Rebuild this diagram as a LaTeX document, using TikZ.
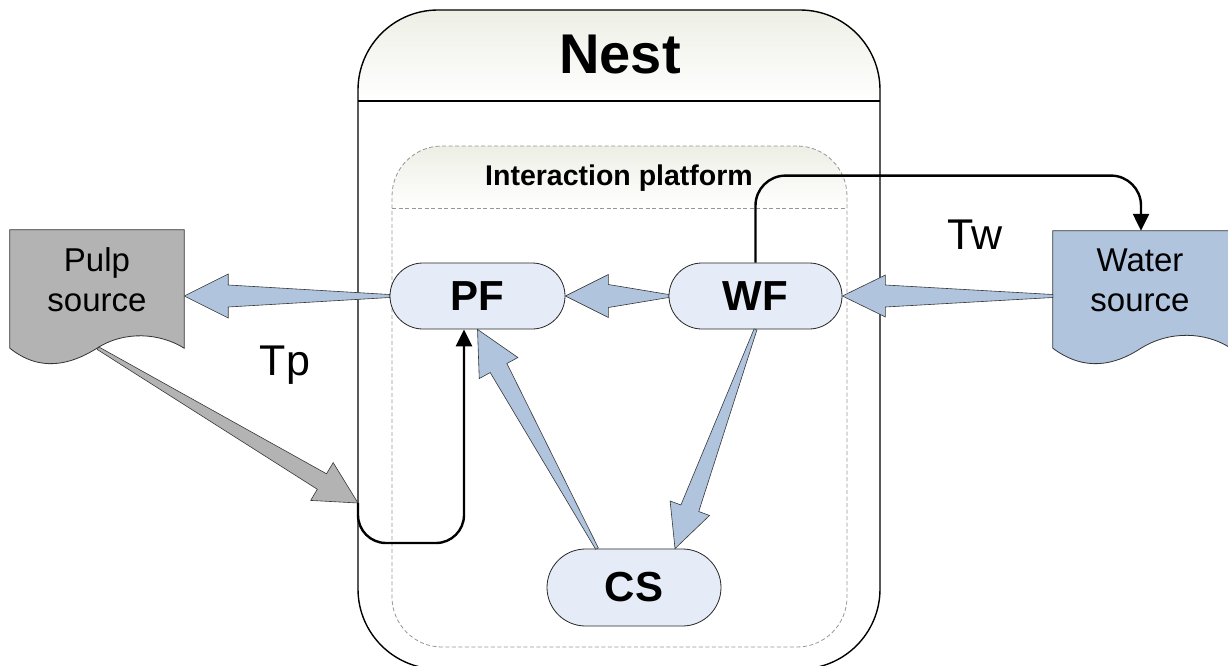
\documentclass[tikz,border=0pt]{standalone}
\usepackage{fontspec}
\setmainfont{Liberation Sans}
\usetikzlibrary{calc,shapes.misc,arrows.meta}
\definecolor{bluef}{RGB}{176,196,222}
\definecolor{pillf}{RGB}{230,236,247}
\definecolor{grayf}{RGB}{179,179,179}
\definecolor{hdrc}{RGB}{237,239,229}
\definecolor{edgec}{RGB}{55,55,55}
\definecolor{dashc}{RGB}{150,150,150}

% tapered block arrow: style, start, end, tail half-width, shaft half-width, head half-width, head length
\newcommand\blockarrow[7]{%
  \coordinate (bas) at (#2);
  \coordinate (bae) at (#3);
  \coordinate (bac) at ($(bae)!#7!(bas)$);
  \draw[#1] ($(bas)!#4!90:(bae)$) -- ($(bac)!#5!-90:(bas)$) -- ($(bac)!#6!-90:(bas)$)
    -- (bae) -- ($(bac)!#6!90:(bas)$) -- ($(bac)!#5!90:(bas)$) -- ($(bas)!#4!-90:(bae)$) -- cycle;
}

\begin{document}
\begin{tikzpicture}[x=1pt,y=-1pt,
  pill/.style={rounded rectangle, draw=black!85, line width=0.8pt, fill=pillf, inner sep=0pt,
    minimum height=66pt, font=\bfseries\fontsize{42}{50}\selectfont},
  srcbox/.style={inner sep=0pt, minimum width=174pt, minimum height=132pt},
  srctext/.style={align=center, inner sep=0pt, font=\fontsize{33}{40}\selectfont},
  barrow/.style={fill=bluef, draw=edgec, line width=0.6pt, line join=miter},
  garrow/.style={fill=grayf, draw=edgec, line width=0.6pt, line join=miter},
  flow/.style={line width=2.4pt, -{Triangle[length=17pt,width=16pt]}},
  dashline/.style={draw=dashc, line width=0.8pt, dash pattern=on 4pt off 2.5pt},
  lbl/.style={inner sep=0pt, anchor=base, font=\fontsize{43}{50}\selectfont}
]
\useasboundingbox (0,0) rectangle (1228,666);

% ---- Nest container
\begin{scope}
  \clip[rounded corners=80pt] (358,10) rectangle (880,669);
  \shade[top color=hdrc, bottom color=white] (358,10) rectangle (880,101);
\end{scope}
\node[draw, line width=1.4pt, rounded corners=80pt, minimum width=522pt, minimum height=659pt, inner sep=0pt] (nest) at (619,339.5) {};
\draw[line width=2pt] (358,101) -- (880,101);
\node[inner sep=0pt, anchor=base, font=\bfseries\fontsize{56}{60}\selectfont] (nesttitle) at (620,74) {Nest};

% ---- Interaction platform
\begin{scope}
  \clip[rounded corners=50pt] (392,146) rectangle (847,647);
  \shade[top color=hdrc, bottom color=white] (392,146) rectangle (847,208);
\end{scope}
\node[dashline, rounded corners=50pt, minimum width=455pt, minimum height=501pt, inner sep=0pt] (ip) at (619.5,396.5) {};
\draw[dashline] (392,208) -- (847,208);
\node[inner sep=0pt, anchor=base, font=\bfseries\fontsize{28.5}{32}\selectfont] (iptitle) at (619,185) {Interaction platform};

% ---- Sources
\node[srcbox] (pulp) at (97,296) {};
\draw[fill=grayf, draw=black!80, line width=0.8pt] (pulp.north west) -- (pulp.north east) -- ($(pulp.south east)+(0,-14)$)
  .. controls +(-24,-15) and +(28,-18) .. ($(pulp.south)+(0,-14)$)
  .. controls +(-27,17) and +(30,24) .. ($(pulp.south west)+(0,-14)$) -- cycle;
\node[srctext] (pulptext) at (97,280) {Pulp\\source};

\node[srcbox, minimum width=176pt, minimum height=130pt] (water) at (1141,296) {};
\draw[fill=bluef, draw=black!80, line width=0.8pt] (water.north west) -- (water.north east) -- ($(water.south east)+(0,-14)$)
  .. controls +(-24,-15) and +(29,-18) .. ($(water.south)+(0,-13)$)
  .. controls +(-26,17) and +(32,24) .. ($(water.south west)+(0,-13)$) -- cycle;
\node[srctext] (watertext) at (1140,280) {Water\\source};

% ---- Function nodes
\node[pill, minimum width=175pt] (PF) at (477.5,296) {PF};
\node[pill, minimum width=173pt] (WF) at (755.5,296) {WF};
\node[pill, minimum width=174pt, minimum height=77pt] (CS) at (634,587.5) {CS};

% ---- Block arrows
\coordinate (tp) at (358,503);
\blockarrow{barrow}{PF.west}{pulp.east}{1.5pt}{11pt}{22pt}{44pt}
\blockarrow{barrow}{WF.west}{PF.east}{1.5pt}{11.5pt}{21.5pt}{43pt}
\blockarrow{barrow}{water.west}{WF.east}{1.5pt}{11pt}{21pt}{43pt}
\blockarrow{barrow}{WF.south}{$(CS.north)+(41,0)$}{1.5pt}{9.5pt}{21pt}{43pt}
\blockarrow{barrow}{$(CS.north)+(-37,0)$}{PF.south}{1.5pt}{9.5pt}{22pt}{44pt}
\blockarrow{garrow}{$(pulp.south)+(1,-14)$}{tp}{1.5pt}{9pt}{22pt}{42pt}

% ---- Flow lines
\draw[flow, rounded corners=28pt] (tp) -- ++(0,40) -| ($(PF.south)+(-13.5,0)$);
\draw[flow, rounded corners=30pt] (WF.north) -- ++(0,-87) -| (water.north);

% ---- Labels
\node[lbl] (tplabel) at (285,375) {Tp};
\node[lbl] (twlabel) at (975,249) {Tw};
\end{tikzpicture}
\end{document}
